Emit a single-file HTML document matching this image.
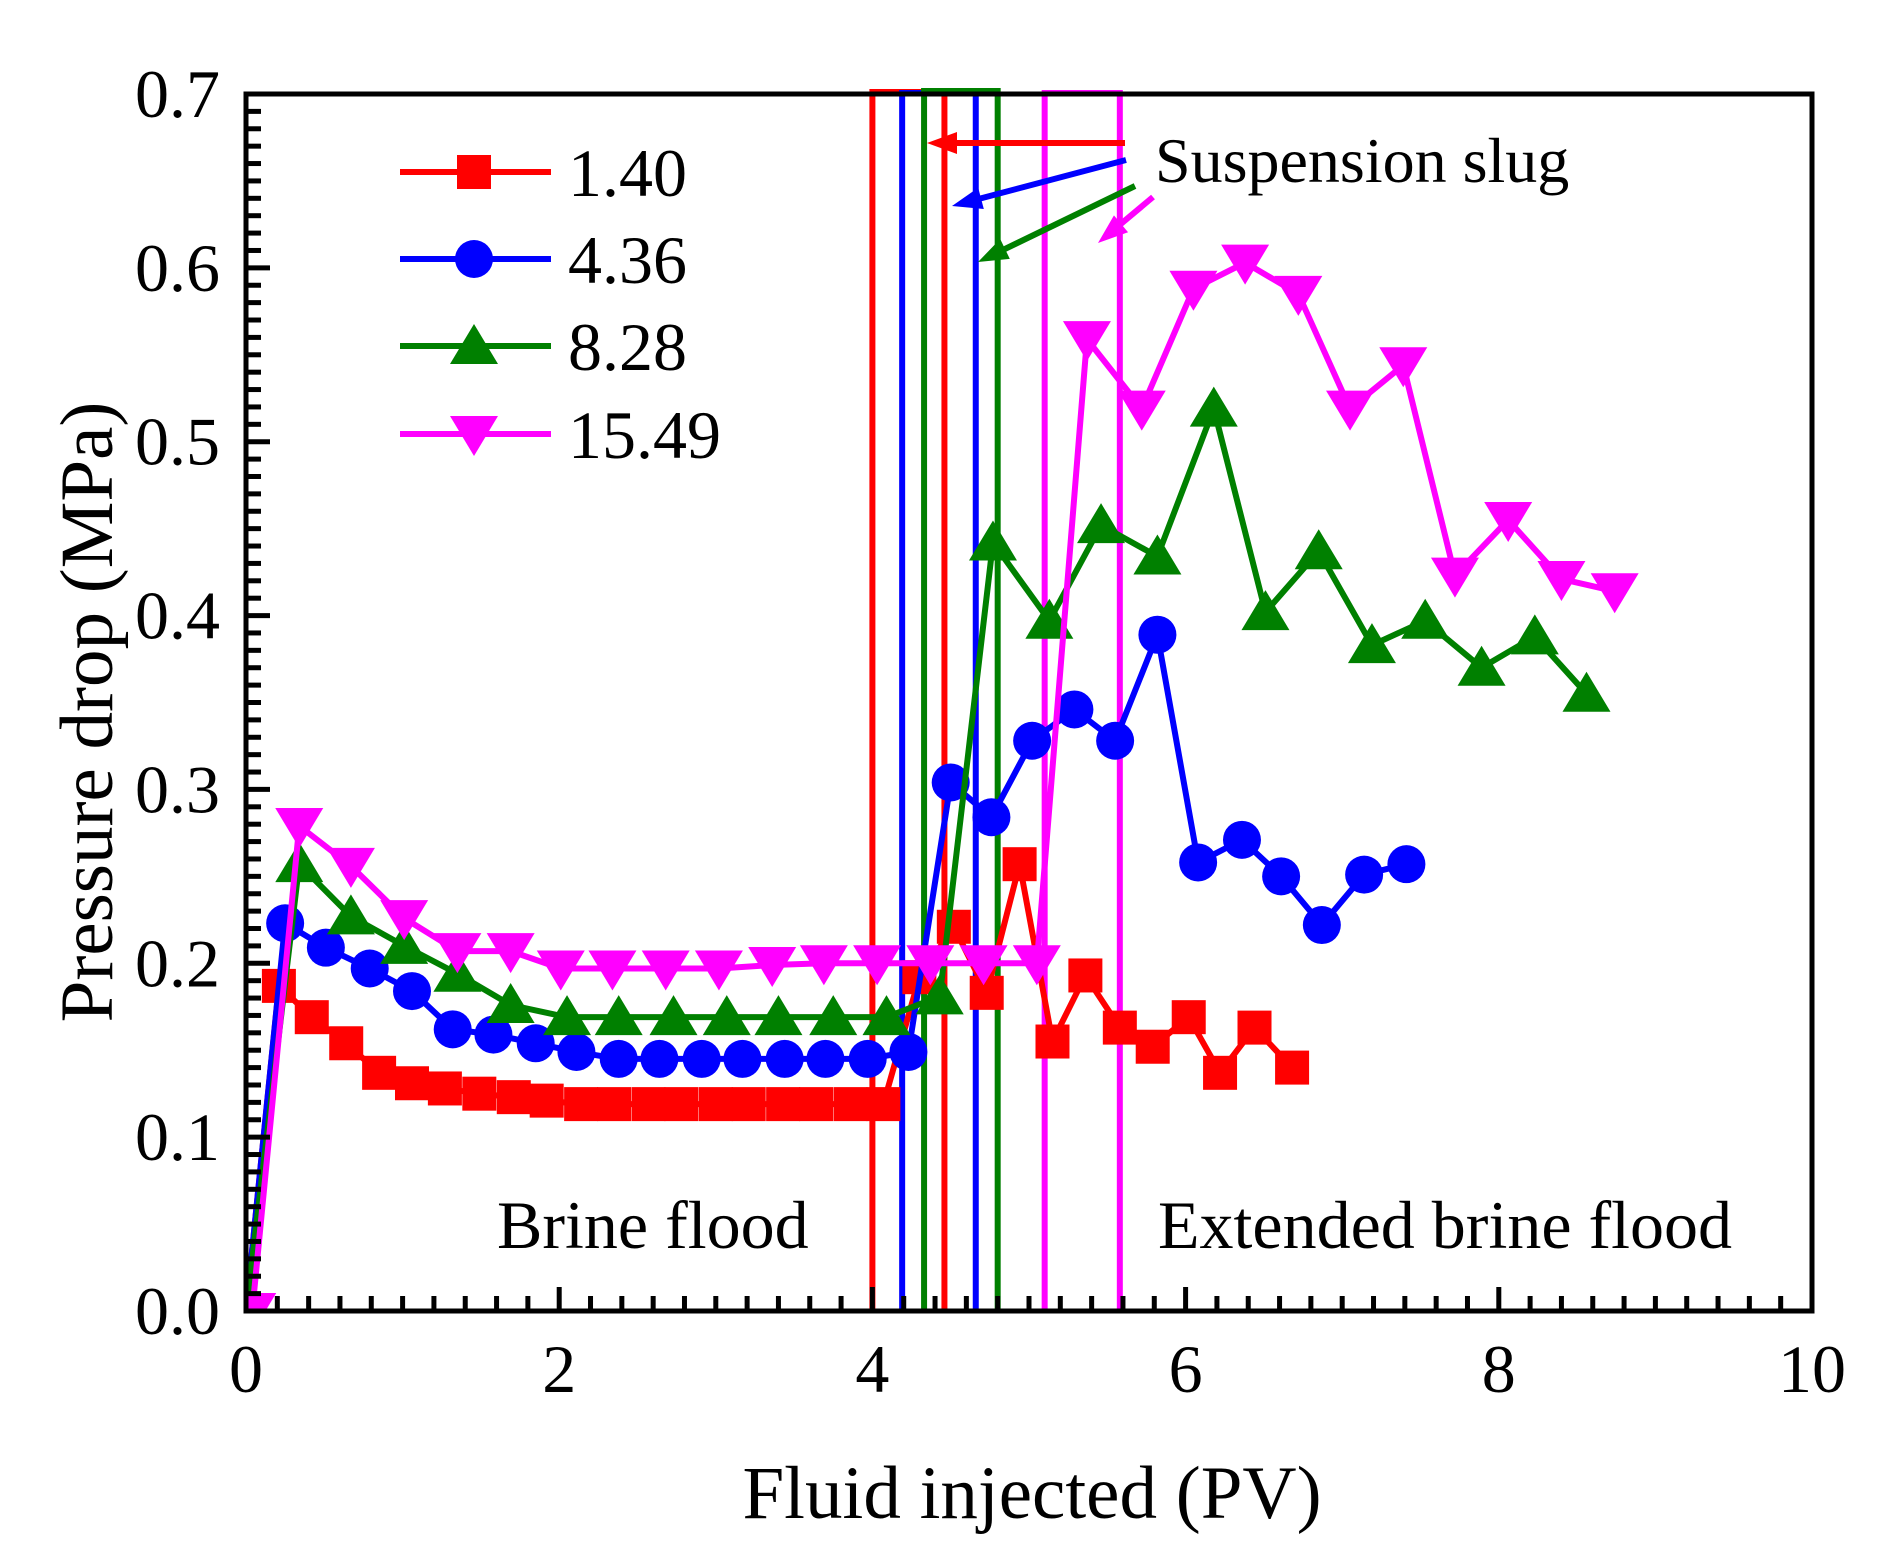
<!DOCTYPE html>
<html><head><meta charset="utf-8"><style>
html,body{margin:0;padding:0;background:#fff}
svg{display:block;font-family:"Liberation Serif",serif}
</style></head><body>
<svg id="chart" width="1877" height="1566" viewBox="0 0 1877 1566" xmlns="http://www.w3.org/2000/svg"></svg>
<script>
const xTicks=[0,2,4,6,8,10];
const yTicks=[0.0,0.1,0.2,0.3,0.4,0.5,0.6,0.7];
const xRed=[0,0.21,0.42,0.64,0.85,1.06,1.27,1.49,1.71,1.92,2.14,2.35,2.57,2.78,3.0,3.21,3.43,3.64,3.86,4.07,4.30,4.52,4.73,4.94,5.15,5.36,5.58,5.79,6.02,6.22,6.44,6.68];
const yRed=[0,0.187,0.169,0.154,0.137,0.131,0.128,0.125,0.123,0.121,0.119,0.119,0.119,0.119,0.119,0.119,0.119,0.119,0.119,0.119,0.192,0.221,0.183,0.257,0.155,0.193,0.163,0.152,0.169,0.137,0.163,0.140];
const xBlue=[0,0.25,0.51,0.79,1.06,1.32,1.58,1.85,2.11,2.38,2.64,2.91,3.17,3.44,3.70,3.97,4.23,4.50,4.76,5.02,5.29,5.55,5.82,6.08,6.36,6.61,6.87,7.14,7.41];
const yBlue=[0,0.223,0.209,0.197,0.184,0.162,0.159,0.154,0.149,0.145,0.145,0.145,0.145,0.145,0.145,0.145,0.149,0.304,0.284,0.328,0.346,0.328,0.389,0.258,0.271,0.250,0.222,0.251,0.257];
const xGreen=[0,0.34,0.67,1.01,1.35,1.69,2.05,2.38,2.73,3.07,3.40,3.75,4.09,4.43,4.77,5.13,5.46,5.82,6.18,6.51,6.85,7.19,7.53,7.89,8.23,8.56];
const yGreen=[0,0.257,0.227,0.210,0.194,0.176,0.169,0.169,0.169,0.169,0.169,0.169,0.169,0.181,0.442,0.397,0.452,0.434,0.519,0.402,0.437,0.383,0.397,0.370,0.388,0.355];
const xMag=[0.04,0.34,0.67,1.01,1.35,1.69,2.01,2.34,2.68,3.02,3.36,3.69,4.03,4.37,4.71,5.05,5.37,5.72,6.05,6.38,6.72,7.05,7.39,7.72,8.06,8.40,8.74];
const yMag=[0,0.279,0.256,0.226,0.207,0.207,0.197,0.197,0.197,0.197,0.199,0.200,0.200,0.200,0.200,0.200,0.559,0.519,0.588,0.603,0.585,0.519,0.544,0.423,0.455,0.421,0.414];

const X0=246,X1=1812,Y0=1311,Y1=94;
const sx=v=>X0+(v/10)*(X1-X0);
const sy=v=>Y0-(v/0.7)*(Y0-Y1);
const NS="http://www.w3.org/2000/svg";
const svg=document.getElementById('chart');
function mk(tag,attrs,parent){const e=document.createElementNS(NS,tag);for(const k in attrs)e.setAttribute(k,attrs[k]);(parent||svg).appendChild(e);return e;}

const defs=mk('defs',{});
const cp=mk('clipPath',{id:'plotclip'},defs);
mk('rect',{x:X0,y:0,width:1700,height:Y0},cp);

// slug boxes
const boxes=mk('g',{});


[[4.0,4.46,'#ff0000',92],[4.19,4.66,'#0000ff',93],[4.33,4.80,'#008000',91],[5.10,5.58,'#ff00ff',93]].forEach(b=>{
  const p=mk('path',{d:`M${sx(b[0])},${Y0} V${b[3]} H${sx(b[1])} V${Y0}`,fill:'none',stroke:b[2],'stroke-width':6},boxes);
  
  
});

function marker(g,shape,x,y,c){
  if(shape==='sq')mk('rect',{x:x-17,y:y-17,width:34,height:34,fill:c},g);
  else if(shape==='ci')mk('circle',{cx:x,cy:y,r:19,fill:c},g);
  else if(shape==='up')mk('polygon',{points:`${x},${y-22} ${x+24},${y+18} ${x-24},${y+18}`,fill:c},g);
  else mk('polygon',{points:`${x},${y+22} ${x+24},${y-18} ${x-24},${y-18}`,fill:c},g);
}
const series=[['series-1-40',xRed,yRed,'#ff0000','sq'],['series-4-36',xBlue,yBlue,'#0000ff','ci'],['series-8-28',xGreen,yGreen,'#008000','up'],['series-15-49',xMag,yMag,'#ff00ff','dn']];
series.forEach(s=>{
  const g=mk('g',{'clip-path':'url(#plotclip)'});
  
  
  mk('polyline',{points:s[1].map((x,i)=>sx(x)+','+sy(s[2][i])).join(' '),fill:'none',stroke:s[3],'stroke-width':6,'stroke-linejoin':'miter'},g);
  s[1].forEach((x,i)=>marker(g,s[4],sx(x),sy(s[2][i]),s[3]));
});

// axes frame
const ax=mk('g',{});


mk('rect',{x:X0,y:Y1,width:X1-X0,height:Y0-Y1,fill:'none',stroke:'#000','stroke-width':5},ax);
for(let i=0;i<=50;i++){const x=sx(i*0.2);const L=i%10==0?24:15;mk('line',{x1:x,x2:x,y1:Y0,y2:Y0-L,stroke:'#000','stroke-width':5},ax);}
for(let i=0;i<=70;i++){const y=sy(i*0.01);const L=i%10==0?24:15;mk('line',{x1:X0,x2:X0+L,y1:y,y2:y,stroke:'#000','stroke-width':5},ax);}
xTicks.forEach(v=>{const t=mk('text',{x:sx(v),y:1392,'font-size':68,'text-anchor':'middle'},ax);t.textContent=v;
  
  });
yTicks.forEach(v=>{const t=mk('text',{x:220,y:sy(v)+23,'font-size':68,'text-anchor':'end'},ax);t.textContent=v.toFixed(1);
  
  });

// arrows
const arr=mk('g',{});


[[1125,143,927,143,'#ff0000'],[1126,160,952,206,'#0000ff'],[1135,186,978,262,'#008000'],[1153,197,1098,243,'#ff00ff']].forEach(a=>{
  const [x1,y1,x2,y2,c]=a;const dx=x2-x1,dy=y2-y1,L=Math.hypot(dx,dy),ux=dx/L,uy=dy/L;
  mk('line',{x1,y1,x2:x2-ux*20,y2:y2-uy*20,stroke:c,'stroke-width':6},arr);
  const bx=x2-ux*30,by=y2-uy*30;
  mk('polygon',{points:`${x2},${y2} ${bx-uy*11},${by+ux*11} ${bx+uy*11},${by-ux*11}`,fill:c},arr);
});

// legend
const lg=mk('g',{});


[['1.40','#ff0000','sq',172],['4.36','#0000ff','ci',259],['8.28','#008000','up',346],['15.49','#ff00ff','dn',434]].forEach(l=>{
  const e=mk('g',{},lg);
  
  
  mk('line',{x1:400,x2:551,y1:l[3],y2:l[3],stroke:l[1],'stroke-width':6},e);
  marker(e,l[2],474,l[3],l[1]);
  const t=mk('text',{x:568,y:l[3]+24,'font-size':68},e);t.textContent=l[0];
});

function label(txt,attrs,name){const t=mk('text',attrs);t.textContent=txt;
  
  return t;}
label('Suspension slug',{x:1155,y:182,'font-size':64},'suspension-slug-label');
label('Brine flood',{x:497,y:1248,'font-size':68},'brine-flood-label');
label('Extended brine flood',{x:1158,y:1248,'font-size':68},'extended-brine-flood-label');
label('Fluid injected  (PV)',{x:1032,y:1518,'font-size':75,'text-anchor':'middle','xml:space':'preserve'},'x-axis-title');
label('Pressure drop  (MPa)',{x:0,y:0,'font-size':75,'text-anchor':'middle','xml:space':'preserve',transform:'translate(112,712) rotate(-90)'},'y-axis-title');
</script>
</body></html>
